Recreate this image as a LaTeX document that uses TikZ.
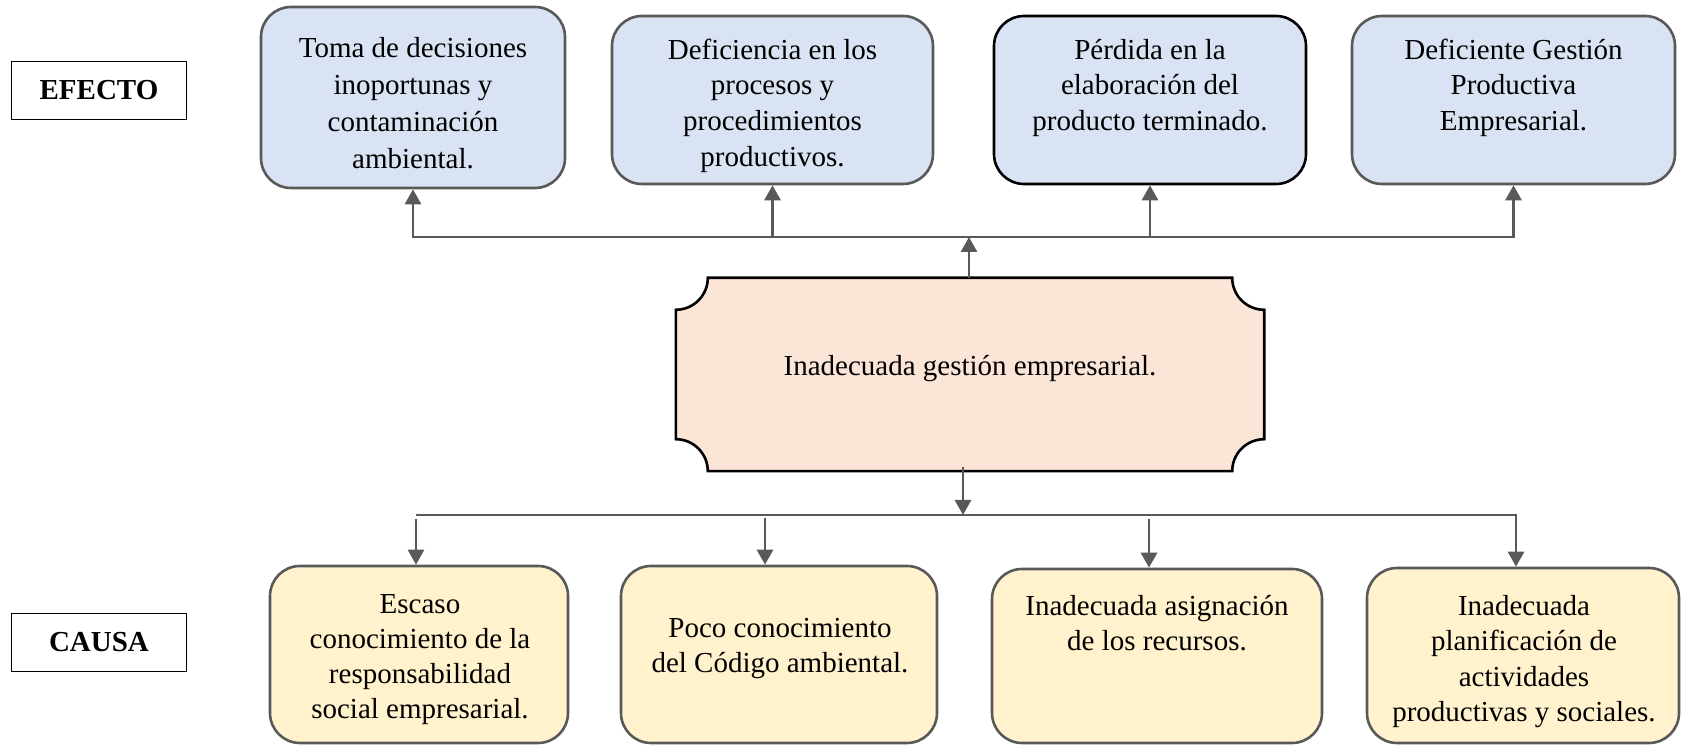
\documentclass[tikz,border=0pt]{standalone}
\usepackage{fontspec}
\setmainfont{Liberation Serif}
\usetikzlibrary{arrows.meta,calc}
\definecolor{bfill}{HTML}{DAE3F3}
\definecolor{yfill}{HTML}{FFF2CC}
\definecolor{pfill}{HTML}{FBE5D6}
\definecolor{gline}{HTML}{595959}
\begin{document}
\begin{tikzpicture}[x=1pt,y=1pt,
  box/.style={draw=gline, line width=2.6pt, rounded corners=30pt, inner sep=0pt},
  efbox/.style={box, fill=bfill},
  cabox/.style={box, fill=yfill},
  txt/.style={anchor=north, align=center, inner sep=0pt, font=\fontsize{29}{35.7}\selectfont},
  txtw/.style={txt, font=\fontsize{29}{36.8}\selectfont},
  ctxt/.style={anchor=north, align=center, inner sep=0pt, font=\fontsize{29}{35}\selectfont},
  tag/.style={draw=black, line width=1.3pt, inner sep=0pt, minimum width=175pt, minimum height=58pt, font=\fontsize{29}{35}\selectfont\bfseries},
  conn/.style={draw=gline, line width=2.8pt},
  arr/.style={conn, -{Triangle[width=16pt,length=15pt]}},
  centershape/.style={draw=black, fill=pfill, line width=2.6pt}
]
\useasboundingbox (0,0) rectangle (1681,746);

% labels
\node[tag] (efecto) at (99,655.5) {EFECTO};
\node[tag] (causa) at (99,103.5) {CAUSA};

% effect boxes
\node[efbox, minimum width=304pt, minimum height=181pt] (e1) at (413,648.5) {};
\node[efbox, minimum width=321pt, minimum height=168pt] (e2) at (772.5,646) {};
\node[efbox, draw=black, minimum width=312pt, minimum height=168pt] (e3) at (1150,646) {};
\node[efbox, minimum width=323pt, minimum height=168pt] (e4) at (1513.5,646) {};

\node[txtw] (e1t) at (413,714) {\strut Toma de decisiones\\ inoportunas y\\ contaminación\\ ambiental.};
\node[txt] (e2t) at (772.5,712) {\strut Deficiencia en los\\ procesos y\\ procedimientos\\ productivos.};
\node[txt] (e3t) at (1150,712) {\strut Pérdida en la\\ elaboración del\\ producto terminado.};
\node[txt] (e4t) at (1513.5,712) {\strut Deficiente Gestión\\ Productiva\\ Empresarial.};

% central problem
\node[inner sep=0pt, minimum width=588pt, minimum height=193pt] (g) at (970,371.5) {};
\draw[centershape] ([xshift=32pt]g.north west) -- ([xshift=-32pt]g.north east)
  arc[start angle=180,end angle=270,radius=32pt]
  -- ([yshift=32pt]g.south east)
  arc[start angle=90,end angle=180,radius=32pt]
  -- ([xshift=32pt]g.south west)
  arc[start angle=0,end angle=90,radius=32pt]
  -- ([yshift=-32pt]g.north west)
  arc[start angle=270,end angle=360,radius=32pt]
  -- cycle;
\node[anchor=base, inner sep=0pt, font=\fontsize{29}{35}\selectfont] (gt) at (970,370) {Inadecuada gestión empresarial.};

% cause boxes
\node[cabox, minimum width=298pt, minimum height=177pt] (c1) at (419,91.5) {};
\node[cabox, minimum width=316pt, minimum height=177pt] (c2) at (779,91.5) {};
\node[cabox, minimum width=330pt, minimum height=174pt] (c3) at (1157,90) {};
\node[cabox, minimum width=312pt, minimum height=175pt] (c4) at (1523,90.5) {};

\node[ctxt] (c1t) at (420,157.5) {\strut Escaso\\ conocimiento de la\\ responsabilidad\\ social empresarial.};
\node[ctxt] (c2t) at (780,133.5) {\strut Poco conocimiento\\ del Código ambiental.};
\node[ctxt] (c3t) at (1157,155.5) {\strut Inadecuada asignación\\ de los recursos.};
\node[ctxt, font=\fontsize{29}{35.4}\selectfont] (c4t) at (1524,155.5) {\strut Inadecuada\\ planificación de\\ actividades\\ productivas y sociales.};

% top connectors
\coordinate (tb) at (969,509);
\draw[arr] (g.north -| tb) -- (tb);
\draw[arr] (e2.south |- tb) -- (e1.south |- tb) -- (e1.south);
\draw[arr] (e2.south |- tb) -- (e4.south |- tb) -- (e4.south);
\draw[arr] (e2.south |- tb) -- (e2.south);
\draw[arr] (e3.south |- tb) -- (e3.south);

% bottom connectors
\coordinate (bb) at (963,231);
\coordinate (b1) at (416,231);
\coordinate (b2) at (765,231);
\coordinate (b3) at (1149,231);
\coordinate (b4) at (1516,231);
\draw[arr] ([yshift=4pt]g.south -| bb) -- (bb);
\draw[arr] (b1) -- (b4) -- (b4 |- c4.north);
\draw[arr] ([yshift=-4pt]b1) -- (b1 |- c1.north);
\draw[arr] ([yshift=-3pt]b2) -- (b2 |- c2.north);
\draw[arr] ([yshift=-4pt]b3) -- (b3 |- c3.north);
\end{tikzpicture}
\end{document}
